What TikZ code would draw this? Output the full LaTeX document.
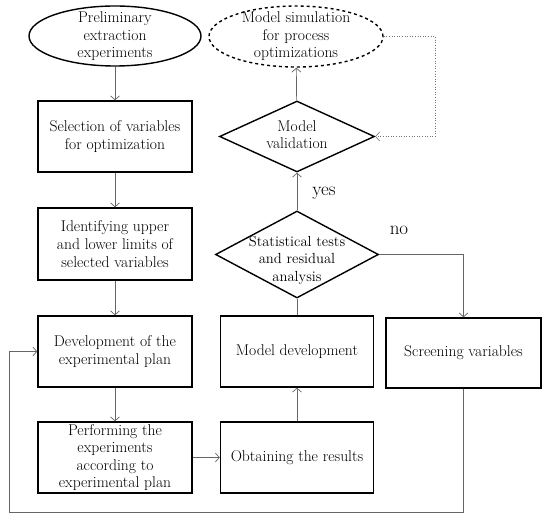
\documentclass[tikz,border=0pt]{standalone}
\usepackage{fontspec}
\usetikzlibrary{shapes.geometric,arrows.meta}
\begin{document}
\begin{tikzpicture}[x=1pt,y=-1pt,
  txt/.style={font=\fontsize{15.6}{17.6}\selectfont, align=center, inner sep=0pt},
  boxnode/.style={draw=black, line width=1.4pt, minimum width=154pt, minimum height=71pt, inner sep=0pt, align=center, font=\fontsize{15.6}{17.6}\selectfont},
  ell/.style={draw=black, line width=1.4pt, ellipse, inner sep=0pt},
  dia/.style={draw=black, line width=1.4pt, diamond, inner sep=0pt},
  arr/.style={draw=black!60, line width=0.7pt, -{Straight Barb[length=4pt,width=9pt]}},
  plain/.style={draw=black!60, line width=0.7pt},
  dots/.style={draw=black!55, line width=0.6pt, dotted, -{Straight Barb[length=4pt,width=9pt]}}]
\useasboundingbox (0,0) rectangle (550,518);
% left column
\node[ell, minimum width=172pt, minimum height=60pt] (pre) at (115,36) {};
\node[txt] (pretxt) at (115,36.5) {Preliminary\\extraction\\experiments};
\node[boxnode] (sel) at (115,136.5) {Selection of variables\\for optimization};
\node[boxnode, minimum height=72pt] (ide) at (115,244) {Identifying upper\\and lower limits of\\selected variables};
\node[boxnode] (dev) at (115,351.5) {Development of the\\experimental plan};
\node[boxnode] (per) at (115,457.5) {Performing the\\experiments\\according to\\experimental plan};
% middle column
\node[boxnode, minimum width=153pt] (obt) at (297,457.5) {Obtaining the results};
\node[boxnode, minimum width=153pt] (mod) at (297,351.5) {Model development};
\node[dia, minimum width=163pt, minimum height=87pt] (sta) at (297,254.5) {};
\node[txt, font=\fontsize{14.6}{17.5}\selectfont] (statxt) at (297,260) {Statistical tests\\and residual\\analysis};
\node[dia, minimum width=155pt, minimum height=71pt] (val) at (297,136.5) {};
\node[txt] (valtxt) at (297,134.5) {Model\\validation};
\node[ell, dashed, minimum width=174pt, minimum height=61pt] (sim) at (296,36.5) {};
\node[txt] (simtxt) at (296,36.5) {Model simulation\\for process\\optimizations};
% right column
\node[boxnode, minimum width=155pt, minimum height=70pt] (scr) at (463.5,353) {Screening variables};
% labels
\node[txt, font=\fontsize{19}{22}\selectfont] (yes) at (324,193) {yes};
\node[txt, font=\fontsize{19}{22}\selectfont] (no) at (399,230) {no};
% helper coordinates
\coordinate (c1) at (9,512);
\coordinate (c2) at (435,90);
% connectors
\draw[arr] (pre) -- (sel);
\draw[arr] (sel) -- (ide);
\draw[arr] (ide) -- (dev);
\draw[arr] (dev) -- (per);
\draw[arr] (per) -- (obt);
\draw[arr] (obt) -- (mod);
\draw[plain] (mod) -- (sta);
\draw[arr] (sta) -- (val);
\draw[arr] (val) -- (sim);
\draw[arr] (sta.east) -| (scr.north);
\draw[arr] (scr.south) |- (c1) |- (dev.west);
\draw[dots] (sim.east) -| (c2) |- (val.east);
\end{tikzpicture}
\end{document}
